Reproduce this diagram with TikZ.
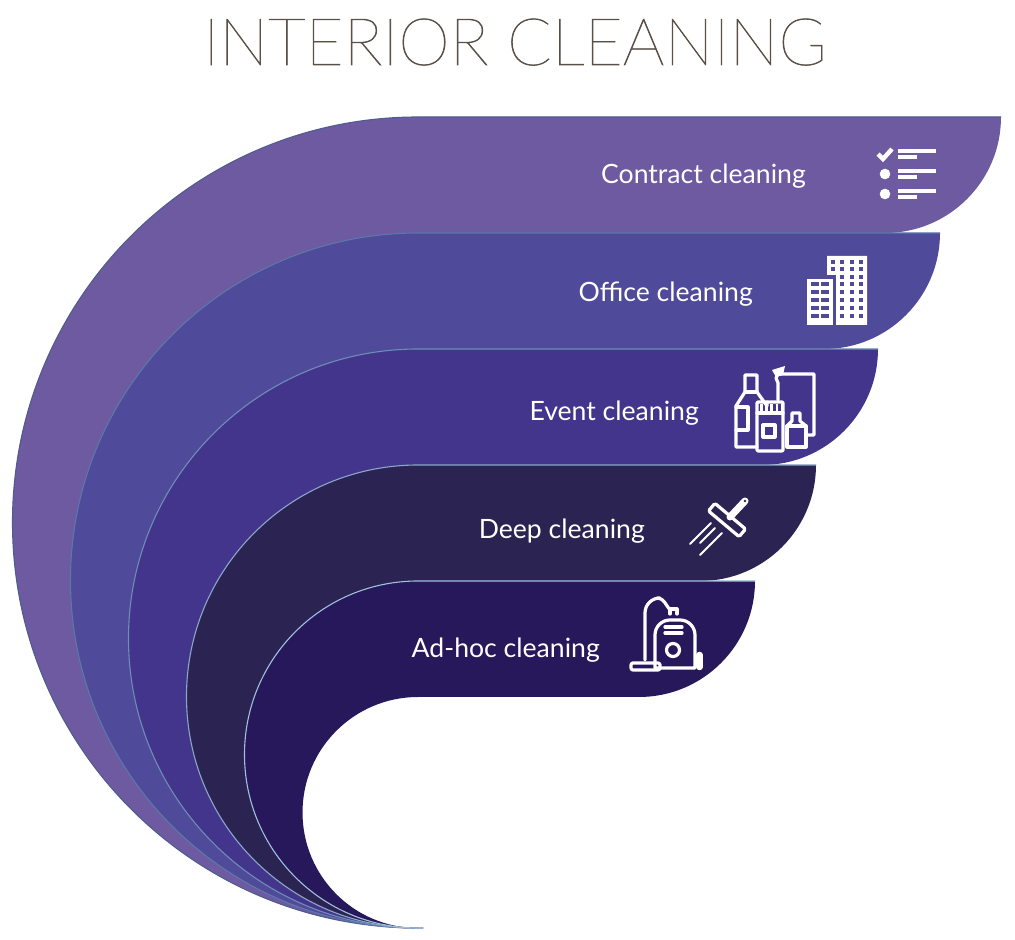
\documentclass[tikz,border=0pt]{standalone}
\usepackage{fontspec}
\setmainfont{Lato}
\newfontfamily\titlefont[FakeBold=1]{Lato Hairline}
\usepackage{tikz}
\definecolor{bandA}{HTML}{6E5AA0}
\definecolor{bandB}{HTML}{4F4A99}
\definecolor{bandC}{HTML}{44358C}
\definecolor{bandD}{HTML}{2B2352}
\definecolor{bandE}{HTML}{27175B}
\definecolor{edgeA}{HTML}{4F5C8F}
\definecolor{edgeB}{HTML}{5A78A8}
\definecolor{edgeC}{HTML}{6D8DB5}
\definecolor{edgeD}{HTML}{8AA6C8}
\definecolor{edgeE}{HTML}{A0C0DC}
\definecolor{titlegray}{HTML}{5A5048}
\tikzset{
  label/.style = {anchor=base east, inner sep=0pt, text=white, font=\fontsize{26.6}{30}\selectfont},
  icon/.style = {draw=white, line width=3.2pt, line join=round, line cap=round},
  iconfill/.style = {fill=white, draw=none},
  bar/.style = {draw=white, line width=4pt}
}
\begin{document}
\begin{tikzpicture}[x=1pt, y=1pt]
\useasboundingbox (0,0) rectangle (1015,940);
% TITLE
\node[anchor=base, inner sep=0pt, text=titlegray, font=\titlefont\fontsize{65.5}{70}\selectfont] (title) at (515,875) {INTERIOR CLEANING};
% BANDS
\foreach \ytop/\xright/\fillcol/\edgecol in {823/1001/bandA/edgeA, 707/940/bandB/edgeB, 591/878/bandC/edgeC, 475/816/bandD/edgeD, 359/755/bandE/edgeE} {
  \pgfmathsetmacro\rout{(\ytop-12)/2}
  \pgfmathsetmacro\rin{\rout-58}
  \fill[\fillcol] (418,12) arc[start angle=-90, end angle=-270, radius=\rout pt] -- (\xright,\ytop)
    arc[start angle=0, end angle=-90, radius=116pt] -- (418,\ytop-116)
    arc[start angle=90, end angle=270, radius=\rin pt] -- cycle;
  \draw[\edgecol, line width=1.1pt] (423,12) -- (418,12) arc[start angle=-90, end angle=-270, radius=\rout pt] -- (\xright,\ytop);
}
% LABELS
\node[label] (contract) at (806,756) {Contract cleaning};
\node[label] (office) at (753,638) {Office cleaning};
\node[label] (event) at (699,519) {Event cleaning};
\node[label] (deep) at (645,401) {Deep cleaning};
\node[label] (adhoc) at (600,282) {Ad-hoc cleaning};
% ICON CHECKLIST
\draw[icon, line width=4.4pt, line cap=butt, line join=miter] (878,786) -- (883,781) -- (892,791);
\fill[iconfill] (885,766) circle (5.3) (885,746) circle (5.3);
\foreach \ybar in {789,769,749} {
  \draw[bar] (898,\ybar) -- (936,\ybar);
  \draw[bar] (898,\ybar-6) -- (917,\ybar-6);
}
% ICON BUILDINGS
\fill[iconfill] (827,684) -- (867,684) -- (867,615) -- (836,615) -- (836,665) -- (827,665) -- cycle;
\fill[iconfill] (807,661) rectangle (833,615);
\foreach \xwin in {833,842,852,861} \foreach \ywin in {678,671}
  \fill[bandB] (\xwin-2.3,\ywin-1.7) rectangle (\xwin+2.3,\ywin+1.7);
\foreach \xwin in {842,852,861} \foreach \ywin in {663,656,648,640,632,624}
  \fill[bandB] (\xwin-2.3,\ywin-1.7) rectangle (\xwin+2.3,\ywin+1.7);
\foreach \xwin in {815,825} \foreach \ywin in {656,648,640,632,624}
  \fill[bandB] (\xwin-3.6,\ywin-1.7) rectangle (\xwin+3.6,\ywin+1.7);
% ICON BOTTLES
\draw[icon] (757,493) -- (736,493) -- (736,534) -- (745,548) -- (745,565) -- (757,565) -- (757,548) -- (767,534) -- (767,538);
\draw[icon] (745,548) -- (757,548);
\draw[icon] (736,533) -- (748,533) -- (748,510) -- (736,510);
\draw[icon, rounded corners=1pt] (757,538) rectangle (783,489);
\draw[icon] (757,527) -- (783,527);
\draw[draw=white, line width=7pt, dash pattern=on 2.6pt off 2.6pt] (760,532) -- (781,532);
\draw[icon] (763,515) rectangle (775,503);
\draw[icon] (787,493) rectangle (806,514);
\draw[icon] (787,514) -- (792,519) -- (792,527) -- (800,527) -- (800,519) -- (806,514);
\draw[icon] (778,540) -- (778,557) -- (776,562) -- (778,566) -- (814,566) -- (814,505) -- (807,505);
\fill[iconfill] (772,570) -- (785,574) -- (783,565) -- (776,563) -- cycle;
% ICON SQUEEGEE
\draw[icon, rounded corners=1.5pt, rotate around={-40:(727,420)}] (707,415) rectangle (747,425);
\draw[icon, line width=7pt, line cap=round] (730,423) -- (745,439);
\fill[bandD] (745,439) circle (1.4);
\draw[icon, line width=1.8pt] (690,396) -- (711,417);
\draw[icon, line width=1.8pt] (700,397) -- (715,412);
\draw[icon, line width=1.8pt] (700,385) -- (722,407);
% ICON VACUUM
\draw[icon] (645,280) -- (645,327) arc[start angle=180, end angle=90, radius=15pt] -- (657,342) to[out=0, in=130] (670,330);
\draw[icon] (655,272) -- (655,305) arc[start angle=180, end angle=90, radius=15pt] -- (680,320) arc[start angle=90, end angle=0, radius=15pt] -- (695,272) -- cycle;
\draw[icon] (670,326) -- (670,331) -- (677,331) -- (677,326);
\draw[icon] (665,313) -- (682,313);
\draw[icon] (665,307) -- (682,307);
\draw[icon] (673,290) circle (6.5);
\draw[icon, rounded corners=2pt] (631,270) rectangle (660,277);
\draw[icon, line width=6.5pt] (699.5,273) -- (699.5,285);
\end{tikzpicture}
\end{document}
